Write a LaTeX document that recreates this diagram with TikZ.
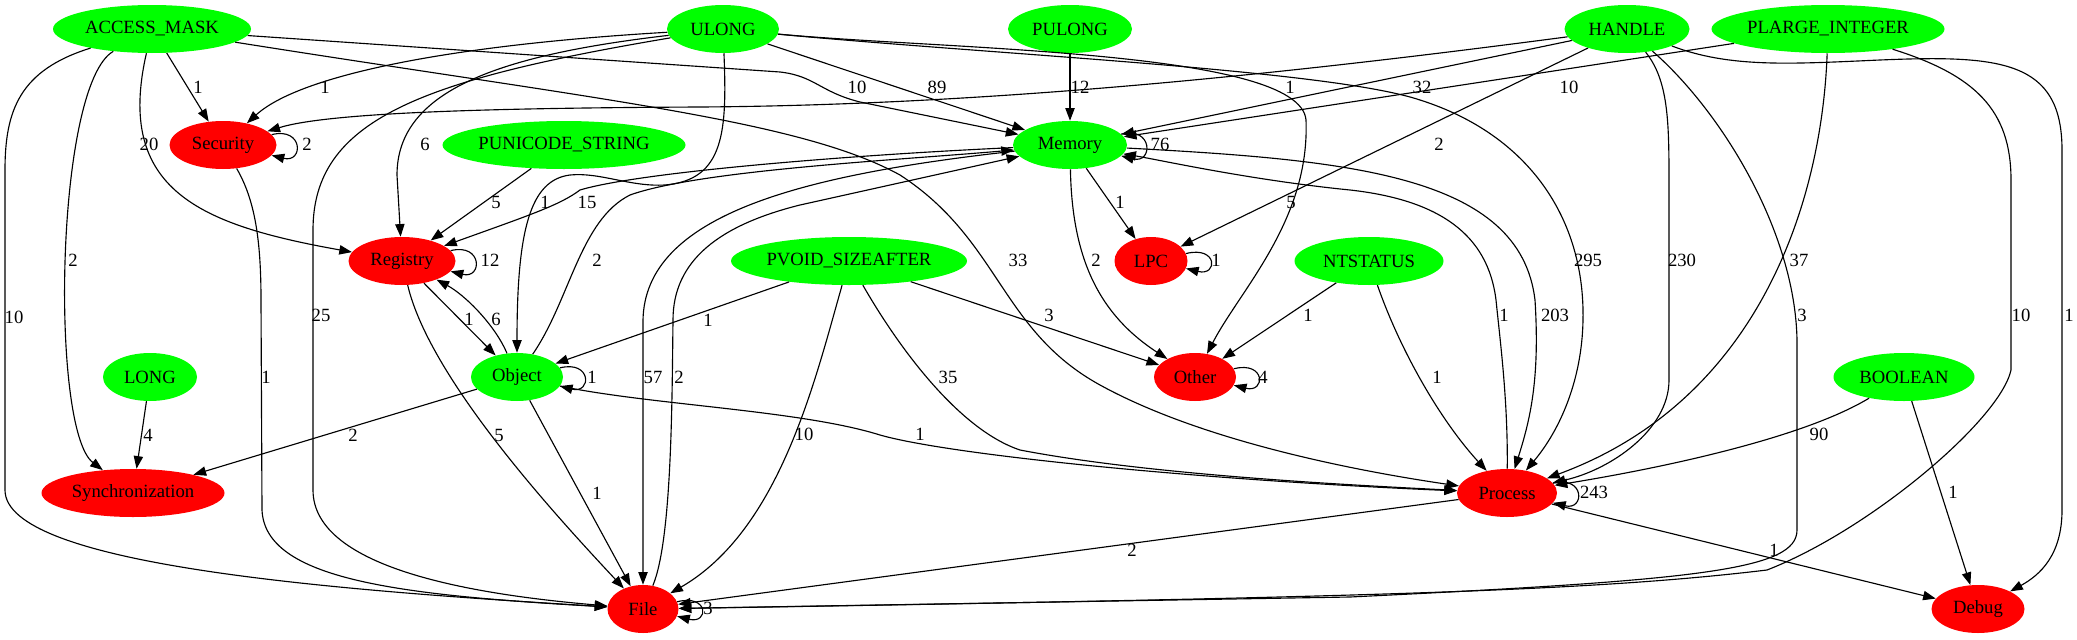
\documentclass[tikz,border=0pt]{standalone}
\usepackage{fontspec}
\setmainfont{Liberation Serif}
\usetikzlibrary{shapes.geometric,arrows.meta}
\definecolor{gvgreen}{RGB}{0,255,0}
\definecolor{gvred}{RGB}{255,0,0}
\newcommand\nt[1]{\makebox[0pt]{#1}}
\begin{document}
\begin{tikzpicture}[x=0.75pt,y=-0.75pt,
  vtx/.style={ellipse,inner sep=0pt,minimum height=36pt,font=\fontsize{14}{16}\selectfont},
  gn/.style={vtx,fill=gvgreen},
  rn/.style={vtx,fill=gvred},
  e/.style={draw=black,line width=0.85pt,-{Triangle[length=9.5pt,width=7pt]}},
  lbl/.style={font=\fontsize{14}{16}\selectfont,inner sep=0pt}]
\fill[white] (0,0) rectangle (2077,639);
\useasboundingbox (0,0) rectangle (2077,639);
% nodes
\node[gn,minimum width=148.5pt] (AM) at (152,29) {\nt{ACCESS\_MASK}};
\node[gn,minimum width=84pt] (UL) at (723,29) {\nt{ULONG}};
\node[gn,minimum width=93pt] (PUL) at (1070,29) {\nt{PULONG}};
\node[gn,minimum width=93.75pt] (HA) at (1627,29) {\nt{HANDLE}};
\node[gn,minimum width=174.75pt] (PLI) at (1828,29) {\nt{PLARGE\_INTEGER}};
\node[gn,minimum width=182.25pt] (PUS) at (564,145) {\nt{PUNICODE\_STRING}};
\node[gn,minimum width=85.5pt] (Mem) at (1070,145) {\nt{Memory}};
\node[rn,minimum width=80.25pt] (Sec) at (223,145) {\nt{Security}};
\node[rn,minimum width=80.25pt] (Reg) at (402,261) {\nt{Registry}};
\node[rn,minimum width=54.75pt] (LPC) at (1151,261) {\nt{LPC}};
\node[gn,minimum width=177pt] (PVS) at (849,261) {\nt{PVOID\_SIZEAFTER}};
\node[gn,minimum width=111.75pt] (NTS) at (1369,261) {\nt{NTSTATUS}};
\node[gn,minimum width=70.5pt] (LONG) at (150,377) {\nt{LONG}};
\node[gn,minimum width=69pt] (Obj) at (517,377) {\nt{Object}};
\node[rn,minimum width=61.5pt] (Other) at (1195,377) {\nt{Other}};
\node[gn,minimum width=105.75pt] (BOOL) at (1904,377) {\nt{BOOLEAN}};
\node[rn,minimum width=137.25pt] (Sync) at (133,493) {\nt{Synchronization}};
\node[rn,minimum width=75pt] (Proc) at (1507,493) {\nt{Process}};
\node[rn,minimum width=53.25pt] (File) at (643,609) {\nt{File}};
\node[rn,minimum width=69.75pt] (Debug) at (1978,609) {\nt{Debug}};
% ACCESS_MASK
\draw[e] (AM) -- (Sec) node[lbl] at (198,87) {1};
\draw[e] (AM) .. controls (115,190) and (200,225) .. (Reg) node[lbl] at (149,144) {20};
\draw[e] (AM) .. controls (55,85) and (50,430) .. (Sync) node[lbl] at (73,260) {2};
\draw[e] (AM) .. controls (20,70) and (5,110) .. (5,170) -- (5,490) .. controls (5,565) and (330,590) .. (File) node[lbl] at (14,317) {10};
\draw[e] (AM) -- (780,72) .. controls (815,76) and (820,92) .. (860,102) -- (Mem) node[lbl] at (857,87) {10};
\draw[e] (AM) .. controls (600,100) and (800,120) .. (900,175) .. controls (1000,240) and (1000,330) .. (1100,385) .. controls (1200,440) and (1350,470) .. (Proc) node[lbl] at (1018,260) {33};
% ULONG
\draw[e] (UL) .. controls (450,45) and (300,75) .. (Sec) node[lbl] at (325,87) {1};
\draw[e] (UL) .. controls (500,55) and (397,90) .. (397,175) -- (Reg) node[lbl] at (425,144) {6};
\draw[e] (UL) .. controls (420,80) and (313,120) .. (313,230) -- (313,490) .. controls (313,570) and (480,595) .. (File) node[lbl] at (321,315) {25};
\draw[e] (UL) .. controls (727,130) and (725,180) .. (665,185) .. controls (630,187) and (600,172) .. (570,175) .. controls (530,180) and (517,230) .. (Obj) node[lbl] at (545,202) {1};
\draw[e] (UL) -- (Mem) node[lbl] at (937,87) {89};
\draw[e] (UL) .. controls (950,50) and (1300,50) .. (1306,120) .. controls (1310,220) and (1240,290) .. (Other) node[lbl] at (1291,202) {5};
\draw[e] (UL) .. controls (1000,55) and (1330,70) .. (1420,100) .. controls (1530,135) and (1585,220) .. (1583,320) .. controls (1582,380) and (1560,430) .. (Proc) node[lbl] at (1588,260) {295};
% PULONG
\draw[e] (PUL) -- (Mem) node[lbl] at (1080,87) {12};
% HANDLE
\draw[e] (HA) .. controls (1300,72) and (1000,105) .. (700,107) .. controls (500,108) and (330,112) .. (Sec) node[lbl] at (1290,87) {1};
\draw[e] (HA) -- (Mem) node[lbl] at (1422,87) {32};
\draw[e] (HA) -- (LPC) node[lbl] at (1439,144) {2};
\draw[e] (HA) .. controls (1668,80) and (1669,120) .. (1669,180) -- (1669,380) .. controls (1669,430) and (1610,470) .. (Proc) node[lbl] at (1682,260) {230};
\draw[e] (HA) .. controls (1720,110) and (1795,230) .. (1797,340) -- (1797,530) .. controls (1797,570) and (1700,580) .. (1350,597) -- (File) node[lbl] at (1802,315) {3};
\draw[e] (HA) .. controls (1730,68) and (1790,64) .. (1880,60) .. controls (2000,55) and (2062,60) .. (2062,150) -- (2062,510) .. controls (2062,555) and (2040,575) .. (Debug) node[lbl] at (2069,315) {1};
% PLARGE_INTEGER
\draw[e] (PLI) -- (Mem) node[lbl] at (1569,87) {10};
\draw[e] (PLI) .. controls (1822,200) and (1760,400) .. (Proc) node[lbl] at (1799,260) {37};
\draw[e] (PLI) .. controls (1975,75) and (2011,110) .. (2011,180) -- (2011,370) .. controls (2000,420) and (1870,530) .. (1767,570) .. controls (1600,590) and (1400,597) .. (File) node[lbl] at (2021,315) {10};
% PUNICODE_STRING
\draw[e] (PUS) -- (Reg) node[lbl] at (496,202) {5};
% Memory
\draw[e] (Mem.12) .. controls +(32,-8) and +(32,8) .. (Mem.-12) node[lbl] at (1160,144) {76};
\draw[e] (Mem) -- (LPC) node[lbl] at (1120,202) {1};
\draw[e] (Mem) .. controls (1072,260) and (1100,315) .. (Other) node[lbl] at (1096,260) {2};
\draw[e] (Mem) .. controls (850,155) and (640,172) .. (580,190) .. controls (560,205) and (530,215) .. (Reg) node[lbl] at (587,202) {15};
\draw[e] (Mem) .. controls (800,175) and (645,215) .. (643,320) -- (File) node[lbl] at (653,377) {57};
\draw[e] (Mem) .. controls (1350,160) and (1520,175) .. (1535,300) .. controls (1540,380) and (1530,420) .. (Proc) node[lbl] at (1555,315) {203};
% Registry
\draw[e] (Reg.12) .. controls +(32,-8) and +(32,8) .. (Reg.-12) node[lbl] at (490,260) {12};
\draw[e] (Reg) -- (Obj) node[lbl] at (469,319) {1};
\draw[e] (Reg) .. controls (430,380) and (560,520) .. (File) node[lbl] at (499,435) {5};
% Object
\draw[e] (Obj.12) .. controls +(32,-8) and +(32,8) .. (Obj.-12) node[lbl] at (592,377) {1};
\draw[e] (Obj) .. controls (495,325) and (465,295) .. (Reg) node[lbl] at (496,319) {6};
\draw[e] (Obj) -- (Sync) node[lbl] at (353,435) {2};
\draw[e] (Obj) -- (File) node[lbl] at (597,493) {1};
\draw[e] (Obj) .. controls (570,300) and (580,220) .. (630,195) .. controls (700,170) and (900,160) .. (Mem) node[lbl] at (597,260) {2};
\draw[e] (Obj) .. controls (650,405) and (800,410) .. (880,435) .. controls (950,455) and (1200,480) .. (Proc) node[lbl] at (920,434) {1};
% PVOID_SIZEAFTER
\draw[e] (PVS) -- (Obj) node[lbl] at (708,320) {1};
\draw[e] (PVS) .. controls (815,380) and (780,530) .. (File) node[lbl] at (804,434) {10};
\draw[e] (PVS) .. controls (900,350) and (960,430) .. (1020,450) .. controls (1150,475) and (1350,485) .. (Proc) node[lbl] at (948,377) {35};
\draw[e] (PVS) -- (Other) node[lbl] at (1049,315) {3};
% NTSTATUS
\draw[e] (NTS) -- (Other) node[lbl] at (1308,315) {1};
\draw[e] (NTS) .. controls (1400,350) and (1440,420) .. (Proc) node[lbl] at (1437,377) {1};
% LONG, BOOLEAN
\draw[e] (LONG) -- (Sync) node[lbl] at (148,435) {4};
\draw[e] (BOOL) .. controls (1800,440) and (1650,470) .. (Proc) node[lbl] at (1819,434) {90};
\draw[e] (BOOL) -- (Debug) node[lbl] at (1953,492) {1};
% Process
\draw[e] (Proc.12) .. controls +(32,-8) and +(32,8) .. (Proc.-12) node[lbl] at (1594,492) {243};
\draw[e] (Proc) -- (File) node[lbl] at (1132,550) {2};
\draw[e] (Proc) -- (Debug) node[lbl] at (1774,550) {1};
\draw[e] (Proc) .. controls (1508,400) and (1500,340) .. (1496,300) .. controls (1488,235) and (1440,200) .. (1350,190) .. controls (1250,180) and (1160,160) .. (Mem) node[lbl] at (1504,315) {1};
% File
\draw[e] (File.12) .. controls +(32,-8) and +(32,8) .. (File.-12) node[lbl] at (708,608) {3};
\draw[e] (File) .. controls (672,540) and (672,400) .. (673,320) .. controls (673,260) and (720,225) .. (800,205) -- (Mem) node[lbl] at (679,377) {2};
% Security, LPC, Other
\draw[e] (Sec.12) .. controls +(32,-8) and +(32,8) .. (Sec.-12) node[lbl] at (307,144) {2};
\draw[e] (Sec) .. controls (255,200) and (261,240) .. (261,300) -- (262,510) .. controls (265,580) and (400,595) .. (File) node[lbl] at (266,377) {1};
\draw[e] (LPC.12) .. controls +(32,-8) and +(32,8) .. (LPC.-12) node[lbl] at (1216,260) {1};
\draw[e] (Other.12) .. controls +(32,-8) and +(32,8) .. (Other.-12) node[lbl] at (1263,377) {4};
\end{tikzpicture}
\end{document}
